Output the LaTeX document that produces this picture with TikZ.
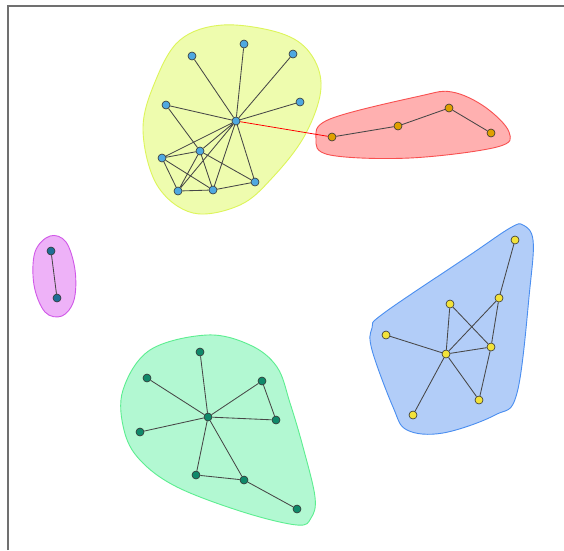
\documentclass[tikz,border=0pt]{standalone}
\begin{document}
\begin{tikzpicture}[x=1pt,y=-1pt,
  vtx/.style={circle,draw=black!80,line width=0.6pt,inner sep=0pt,minimum size=8pt},
  lnk/.style={draw=black!72,line width=0.85pt},
  hull/.style={line width=0.9pt,smooth cycle,tension=0.6}]
\definecolor{yfill}{HTML}{EEFCAE}\definecolor{yline}{HTML}{DDF55A}
\definecolor{rfill}{HTML}{FFB0B0}\definecolor{rline}{HTML}{F85050}
\definecolor{mfill}{HTML}{EEB2F8}\definecolor{mline}{HTML}{D058E8}
\definecolor{bfill}{HTML}{B2CDF8}\definecolor{bline}{HTML}{4A8EF0}
\definecolor{gfill}{HTML}{B2F8D2}\definecolor{gline}{HTML}{5CEE90}
\definecolor{cblue}{HTML}{4FA8E0}\definecolor{corange}{HTML}{E0A000}
\definecolor{cyellow}{HTML}{F2E23A}\definecolor{cteal}{HTML}{1E6E96}
\definecolor{cgreen}{HTML}{10896A}\definecolor{frame}{HTML}{707070}
\useasboundingbox (0,0) rectangle (564,550);
\fill[white] (0,0) rectangle (564,550);
\draw[frame,line width=2pt] (8,550) -- (8,5.5) -- (564,5.5);
% hulls
\draw[hull,fill=yfill,draw=yline] plot coordinates {(223,25) (280,33) (310,53) (321,88) (305,135) (273,177) (240,205) (193,213) (157,185) (143,130) (155,82) (180,40)};
\draw[hull,fill=rfill,draw=rline] plot coordinates {(316,139) (330,119) (420,96) (452,92) (485,107) (509,132) (497,147) (410,158) (330,155)};
\draw[hull,fill=mfill,draw=mline] plot coordinates {(50,236) (66,242) (75,270) (74,300) (62,316) (45,312) (34,285) (35,252)};
\draw[hull,fill=bfill,draw=bline] plot coordinates {(523,225) (533,240) (530,287) (517,393) (495,415) (443,433) (407,430) (393,407) (372,350) (372,328) (384,313) (470,255) (510,228)};
\draw[hull,fill=gfill,draw=gline] plot coordinates {(207,335) (250,345) (277,367) (290,403) (303,447) (315,497) (311,518) (297,525) (243,512) (177,487) (140,460) (124,430) (123,390) (150,350)};
% yellow cluster (blue nodes)
\begin{scope}[every node/.style={vtx,fill=cblue}]
\node (y0) at (236,121) {};
\node (y1) at (244,44) {};
\node (y2) at (192,56) {};
\node (y3) at (293,54) {};
\node (y4) at (166,105) {};
\node (y5) at (300,102) {};
\node (y6) at (162,158) {};
\node (y7) at (200,151) {};
\node (y8) at (178,191) {};
\node (y9) at (213,190) {};
\node (y10) at (255,182) {};
\end{scope}
% red cluster
\begin{scope}[every node/.style={vtx,fill=corange}]
\node (r1) at (332,137) {};
\node (r2) at (398,126) {};
\node (r3) at (449,108) {};
\node (r4) at (491,133) {};
\end{scope}
% magenta cluster
\begin{scope}[every node/.style={vtx,fill=cteal}]
\node (m1) at (51,251) {};
\node (m2) at (57,298) {};
\end{scope}
% blue cluster (yellow nodes)
\begin{scope}[every node/.style={vtx,fill=cyellow}]
\node (b1) at (515,240) {};
\node (b2) at (499,298) {};
\node (b3) at (450,304) {};
\node (b4) at (386,335) {};
\node (b5) at (446,354) {};
\node (b6) at (491,347) {};
\node (b7) at (479,400) {};
\node (b8) at (413,415) {};
\end{scope}
% green cluster
\begin{scope}[every node/.style={vtx,fill=cgreen}]
\node (g0) at (208,417) {};
\node (g1) at (200,352) {};
\node (g2) at (147,378) {};
\node (g3) at (262,381) {};
\node (g4) at (276,420) {};
\node (g5) at (140,432) {};
\node (g6) at (196,475) {};
\node (g7) at (244,480) {};
\node (g8) at (297,509) {};
\end{scope}
% edges
\path[lnk] (y0)--(y1) (y0)--(y2) (y0)--(y3) (y0)--(y4) (y0)--(y5)
  (y0)--(y6) (y0)--(y7) (y0)--(y8) (y0)--(y9) (y0)--(y10)
  (y4)--(y7) (y6)--(y7) (y6)--(y8) (y6)--(y9) (y7)--(y8) (y7)--(y9) (y7)--(y10)
  (y8)--(y9) (y9)--(y10);
\draw[red,line width=0.8pt] (y0)--(r1);
\path[lnk] (r1)--(r2) (r2)--(r3) (r3)--(r4);
\path[lnk] (m1)--(m2);
\path[lnk] (b1)--(b2) (b2)--(b6) (b2)--(b5) (b3)--(b5) (b3)--(b6) (b4)--(b5)
  (b5)--(b6) (b5)--(b7) (b5)--(b8) (b6)--(b7);
\path[lnk] (g0)--(g1) (g0)--(g2) (g0)--(g3) (g0)--(g4) (g0)--(g5) (g0)--(g6) (g0)--(g7)
  (g3)--(g4) (g6)--(g7) (g7)--(g8);
\end{tikzpicture}
\end{document}
